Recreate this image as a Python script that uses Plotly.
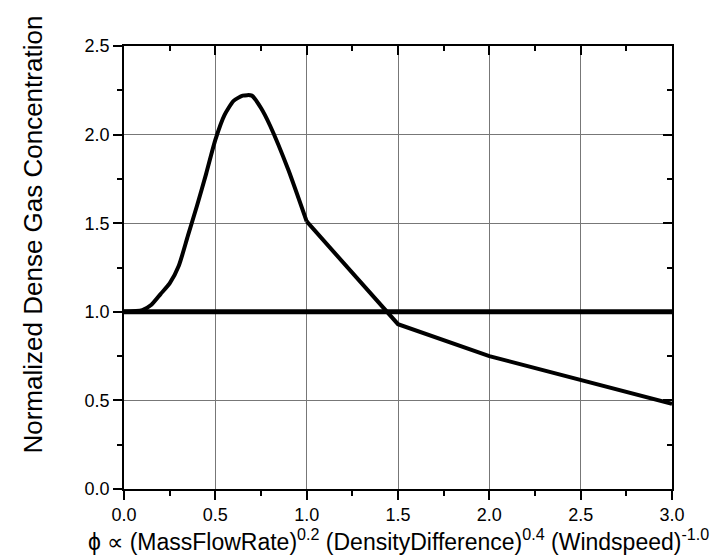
import plotly.graph_objects as go

# normalized concentration curve
phi = [0, 0.1, 0.15, 0.2, 0.25, 0.3, 0.35, 0.4, 0.45, 0.5, 0.55, 0.6, 0.65,
       0.7, 0.75, 0.8, 0.9, 1.0, 1.5, 2.0, 2.5, 3.0]
conc = [1.0, 1.01, 1.04, 1.10, 1.16, 1.26, 1.43, 1.60, 1.78, 1.97, 2.11, 2.19,
        2.22, 2.22, 2.15, 2.05, 1.80, 1.51, 0.93, 0.75, 0.615, 0.48]

# reference level
ref_x = [0, 3.0]
ref_y = [1.0, 1.0]

x_ticks = [0, 0.5, 1.0, 1.5, 2.0, 2.5, 3.0]
y_ticks = [0, 0.5, 1.0, 1.5, 2.0, 2.5]

FONT = "Arial, Liberation Sans, sans-serif"

# smooth hump up to phi = 1.0, straight segments after that
k = phi.index(1.0) + 1

fig = go.Figure()
fig.add_trace(go.Scatter(x=ref_x, y=ref_y, mode="lines",
                         line=dict(color="black", width=5), showlegend=False))
fig.add_trace(go.Scatter(x=phi[:k], y=conc[:k], mode="lines",
                         line=dict(color="black", width=4, shape="spline", smoothing=0.6),
                         showlegend=False))
fig.add_trace(go.Scatter(x=phi[k - 1:], y=conc[k - 1:], mode="lines",
                         line=dict(color="black", width=4), showlegend=False))

axis_common = dict(
    showline=True, linecolor="black", linewidth=1.5,
    showgrid=True, gridcolor="#777777", gridwidth=1,
    zeroline=False, ticks="outside", ticklen=9, tickwidth=1.5, tickcolor="black",
    tickformat=".1f", tickfont=dict(size=18, family=FONT, color="black"),
)

fig.update_xaxes(range=[0, 3], tickvals=x_ticks,
                 minor=dict(dtick=0.25, ticks="outside", ticklen=5, tickwidth=1.5,
                            tickcolor="black", showgrid=False),
                 **axis_common)
fig.update_yaxes(range=[0, 2.5], tickvals=y_ticks,
                 minor=dict(dtick=0.25, ticks="outside", ticklen=5, tickwidth=1.5,
                            tickcolor="black", showgrid=False),
                 **axis_common)

# top and right frame with inward ticks
fig.update_layout(
    xaxis2=dict(overlaying="x", side="top", range=[0, 3], tickvals=x_ticks,
                showticklabels=False, showline=True, linecolor="black", linewidth=1.5,
                ticks="inside", ticklen=9, tickwidth=1.5, tickcolor="black",
                showgrid=False, zeroline=False,
                minor=dict(dtick=0.25, ticks="inside", ticklen=5, tickwidth=1.5,
                           tickcolor="black", showgrid=False)),
    yaxis2=dict(overlaying="y", side="right", range=[0, 2.5], tickvals=y_ticks,
                showticklabels=False, showline=True, linecolor="black", linewidth=1.5,
                ticks="inside", ticklen=9, tickwidth=1.5, tickcolor="black",
                showgrid=False, zeroline=False,
                minor=dict(dtick=0.25, ticks="inside", ticklen=5, tickwidth=1.5,
                           tickcolor="black", showgrid=False)),
)
# invisible trace so the mirrored axes get drawn
fig.add_trace(go.Scatter(x=ref_x, y=ref_y, xaxis="x2", yaxis="y2", mode="lines",
                         line=dict(width=0), hoverinfo="skip", showlegend=False))

fig.add_annotation(text="Normalized Dense Gas Concentration", textangle=-90,
                   xref="paper", yref="paper", x=-0.166, y=0.5745,
                   xanchor="center", yanchor="middle", showarrow=False,
                   font=dict(size=26, family=FONT, color="black"))

fig.add_annotation(text="ϕ ∝ (MassFlowRate)<sup>0.2</sup> (DensityDifference)<sup>0.4</sup> (Windspeed)<sup>-1.0</sup>",
                   xref="paper", yref="paper", x=0.5, y=-0.115,
                   xanchor="center", yanchor="middle", showarrow=False,
                   font=dict(size=23, family=FONT, color="black"))

fig.update_layout(
    width=722, height=556,
    margin=dict(l=116, r=58, t=38, b=75),
    plot_bgcolor="white", paper_bgcolor="white",
)

fig.write_html("out.html")
